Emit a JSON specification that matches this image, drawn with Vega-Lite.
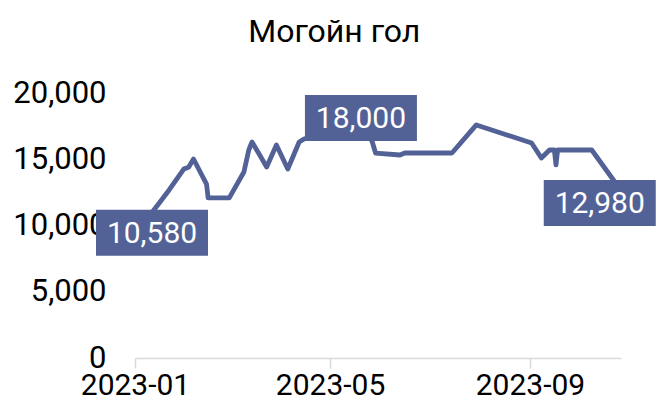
{
  "$schema": "https://vega.github.io/schema/vega-lite/v6.json",
  "width": 486,
  "height": 265,
  "autosize": "none",
  "padding": {"left": 135, "top": 93, "right": 41, "bottom": 54},
  "title": {"text": "Могойн гол", "fontSize": 32, "font": "Roboto", "fontWeight": "normal", "color": "#000000", "anchor": "middle", "frame": "bounds", "offset": 28},
  "config": {"view": {"stroke": null}, "axis": {"grid": false, "labelFont": "Roboto", "labelColor": "#000000"}},
  "data": {"values": [
    {"date": "2023-01-09", "value": 10580},
    {"date": "2023-01-22", "value": 12680},
    {"date": "2023-01-31", "value": 14260},
    {"date": "2023-02-03", "value": 14400},
    {"date": "2023-02-06", "value": 15020},
    {"date": "2023-02-14", "value": 13130},
    {"date": "2023-02-15", "value": 12080},
    {"date": "2023-02-28", "value": 12080},
    {"date": "2023-03-09", "value": 14040},
    {"date": "2023-03-12", "value": 15700},
    {"date": "2023-03-14", "value": 16300},
    {"date": "2023-03-23", "value": 14420},
    {"date": "2023-03-29", "value": 16080},
    {"date": "2023-04-05", "value": 14260},
    {"date": "2023-04-12", "value": 16300},
    {"date": "2023-04-15", "value": 16530},
    {"date": "2023-05-20", "value": 18000},
    {"date": "2023-05-27", "value": 16300},
    {"date": "2023-05-29", "value": 15470},
    {"date": "2023-06-13", "value": 15320},
    {"date": "2023-06-16", "value": 15470},
    {"date": "2023-07-15", "value": 15470},
    {"date": "2023-07-30", "value": 17590},
    {"date": "2023-09-02", "value": 16230},
    {"date": "2023-09-08", "value": 15090},
    {"date": "2023-09-13", "value": 15700},
    {"date": "2023-09-16", "value": 15700},
    {"date": "2023-09-17", "value": 14570},
    {"date": "2023-09-18", "value": 15700},
    {"date": "2023-10-09", "value": 15700},
    {"date": "2023-10-25", "value": 12980}
  ]},
  "encoding": {
    "x": {
      "field": "date", "type": "temporal", "title": null,
      "scale": {"type": "utc", "domain": [{"year": 2023, "month": 1, "date": 1, "utc": true}, {"year": 2023, "month": 10, "date": 27, "utc": true}]},
      "axis": {
        "values": [{"year": 2023, "month": 1, "date": 1, "utc": true}, {"year": 2023, "month": 5, "date": 1, "utc": true}, {"year": 2023, "month": 9, "date": 1, "utc": true}],
        "labelExpr": "utcFormat(datum.value, '%Y-%m')",
        "labelFlush": false, "labelAlign": "center", "labelOverlap": false,
        "labelFontSize": 30, "domainColor": "#d9d9d9", "domainWidth": 1.5,
        "tickColor": "#d9d9d9", "tickWidth": 1.5, "tickSize": 10, "labelPadding": 2
      }
    },
    "y": {
      "field": "value", "type": "quantitative", "title": null,
      "scale": {"domain": [0, 20000], "nice": false},
      "axis": {"values": [0, 5000, 10000, 15000, 20000], "format": ",.0f", "labelFontSize": 31, "domain": false, "ticks": false, "labelPadding": 29}
    }
  },
  "layer": [
    {"mark": {"type": "line", "color": "#536296", "strokeWidth": 4.8, "strokeJoin": "round"}},
    {"transform": [{"filter": "datum.value == 10580"}],
     "mark": {"type": "point", "shape": "M-1,-0.41H1V0.41H-1Z", "size": 12544, "filled": true, "opacity": 1, "color": "#536296", "strokeWidth": 0, "xOffset": 4, "yOffset": 15}},
    {"transform": [{"filter": "datum.value == 10580"}],
     "mark": {"type": "text", "color": "#ffffff", "font": "Roboto", "fontSize": 30, "align": "center", "baseline": "middle", "xOffset": 4, "yOffset": 16},
     "encoding": {"text": {"field": "value", "type": "quantitative", "format": ",.0f"}}},
    {"transform": [{"filter": "datum.value == 18000"}],
     "mark": {"type": "point", "shape": "M-1,-0.41H1V0.41H-1Z", "size": 12544, "filled": true, "opacity": 1, "color": "#536296", "strokeWidth": 0, "xOffset": 0, "yOffset": -1.5}},
    {"transform": [{"filter": "datum.value == 18000"}],
     "mark": {"type": "text", "color": "#ffffff", "font": "Roboto", "fontSize": 30, "align": "center", "baseline": "middle", "xOffset": 0, "yOffset": -0.5},
     "encoding": {"text": {"field": "value", "type": "quantitative", "format": ",.0f"}}},
    {"transform": [{"filter": "datum.value == 12980"}],
     "mark": {"type": "point", "shape": "M-1,-0.41H1V0.41H-1Z", "size": 12544, "filled": true, "opacity": 1, "color": "#536296", "strokeWidth": 0, "xOffset": -18, "yOffset": 17}},
    {"transform": [{"filter": "datum.value == 12980"}],
     "mark": {"type": "text", "color": "#ffffff", "font": "Roboto", "fontSize": 30, "align": "center", "baseline": "middle", "xOffset": -18, "yOffset": 18},
     "encoding": {"text": {"field": "value", "type": "quantitative", "format": ",.0f"}}}
  ]
}
